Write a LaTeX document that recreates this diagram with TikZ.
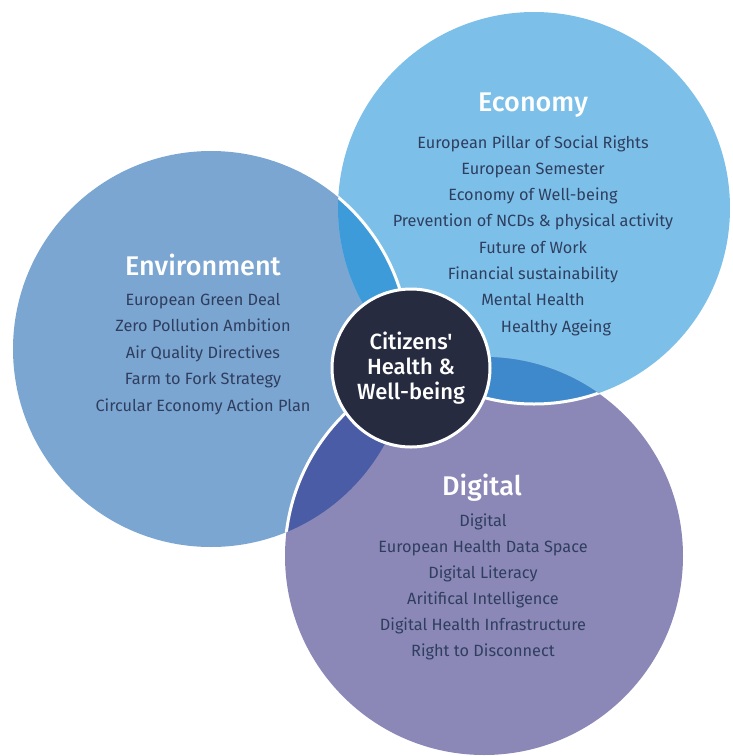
\documentclass[tikz,border=0pt]{standalone}
\usepackage{fontspec}
\setmainfont{Fira Sans}
\newfontfamily\titlefont{Fira Sans Medium}
\definecolor{envcol}{HTML}{7BA6D1}
\definecolor{econcol}{HTML}{7CC0E9}
\definecolor{digcol}{HTML}{8B88B8}
\definecolor{envecon}{HTML}{3E9BD9}
\definecolor{envdig}{HTML}{4B5CA6}
\definecolor{econdig}{HTML}{3E89CB}
\definecolor{corecol}{HTML}{272B40}
\definecolor{txtcol}{HTML}{2F3E5E}
\begin{document}
\begin{tikzpicture}[x=1pt,y=-1pt,
  item/.style={text=txtcol,font=\fontsize{16.3}{19}\selectfont,text height=12,text depth=4,inner sep=0},
  ttl/.style={text=white,font=\titlefont\fontsize{27}{32}\selectfont,inner sep=0},
  edge/.style={draw=white,line width=3}]
\useasboundingbox (0,0) rectangle (732,756);
\def\envpath{(211,349) circle[radius=198]}
\def\econpath{(534,208) circle[radius=196]}
\def\digpath{(484,556) circle[radius=199]}
\fill[envcol] \envpath;
\fill[econcol] \econpath;
\fill[digcol] \digpath;
\begin{scope}\clip \envpath; \fill[envecon] \econpath; \end{scope}
\begin{scope}\clip \envpath; \fill[envdig] \digpath; \end{scope}
\begin{scope}\clip \econpath; \fill[econdig] \digpath; \end{scope}
\begin{scope}\clip \econpath; \draw[edge] \envpath; \end{scope}
\begin{scope}\clip \envpath; \draw[edge] \digpath; \end{scope}
\begin{scope}\clip \digpath; \draw[edge] \econpath; \end{scope}
% Environment
\node[ttl] (envtitle) at (203,265) {Environment};
\foreach \t [count=\i] in {European Green Deal,Zero Pollution Ambition,Air Quality Directives,Farm to Fork Strategy,Circular Economy Action Plan}
  \node[item] (env\i) at (203,{301+26.5*(\i-1)}) {\t};
% Economy
\node[ttl] (econtitle) at (533,105) {Economy};
\foreach \t [count=\i] in {European Pillar of Social Rights,European Semester,Economy of Well-being,Prevention of NCDs \& physical activity,Future of Work,Financial sustainability,Mental Health}
  \node[item] (econ\i) at (533,{144+26.3*(\i-1)}) {\t};
\node[item] (econ8) at (556,328) {Healthy Ageing};
% Digital
\node[ttl] (digtitle) at (482,488) {Digital};
\foreach \t [count=\i] in {Digital,European Health Data Space,Digital Literacy,Aritifical Intelligence,Digital Health Infrastructure,Right to Disconnect}
  \node[item] (dig\i) at (483,{522+26*(\i-1)}) {\t};
% Core
\node[circle,fill=corecol,draw=white,line width=3,minimum size=158,inner sep=0] (core) at (411,368) {};
\node[text=white,font=\titlefont\fontsize{22}{25}\selectfont,align=center,inner sep=0] (coretext) at (core.center) {Citizens'\\Health \&\\Well-being};
\end{tikzpicture}
\end{document}
